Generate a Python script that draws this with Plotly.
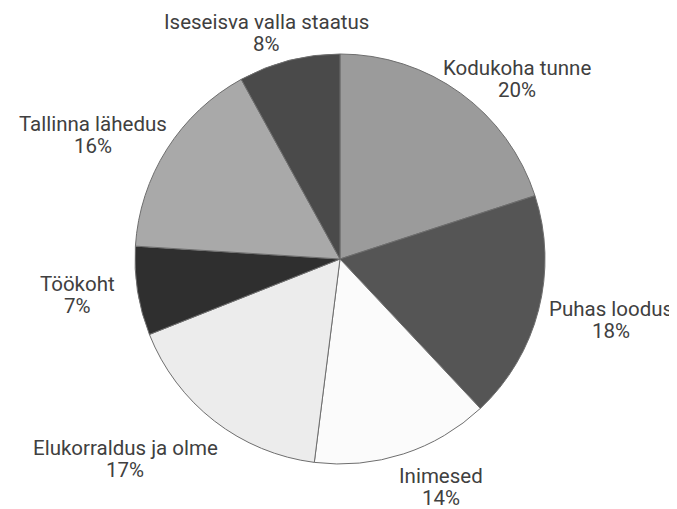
import plotly.graph_objects as go

categories = ["Kodukoha tunne", "Puhas loodus", "Inimesed", "Elukorraldus ja olme",
              "Töökoht", "Tallinna lähedus", "Iseseisva valla staatus"]
values = [20, 18, 14, 17, 7, 16, 8]

colors = ["#9b9b9b", "#555555", "#fbfbfb", "#ececec", "#2f2f2f", "#a9a9a9", "#4a4a4a"]
# label block centres in screen pixels (layout only)
label_px = [(517, 79), (611, 320), (441, 487), (125, 459), (77, 295), (93, 135), (266, 33)]

OFF = 8          # page body margin
W, H = 677 - OFF, 509 - OFF
cx, cy, r = 340, 259, 205
LINE = 22.5


def px2paper(x, y):
    return (x - OFF) / W, 1 - (y - OFF) / H


x0, y1 = px2paper(cx - r, cy - r)
x1, y0 = px2paper(cx + r, cy + r)

fig = go.Figure(go.Pie(
    labels=categories, values=values, sort=False, direction="clockwise", rotation=0,
    marker=dict(colors=colors, line=dict(color="#6e6e6e", width=1)),
    textinfo="none", hoverinfo="label+percent", showlegend=False,
    domain=dict(x=[x0, x1], y=[y0, y1]),
))

total = sum(values)
font = dict(family="Roboto", size=20.5, color="#404040")
for cat, v, (px, py) in zip(categories, values, label_px):
    for line, dy in ((cat, -LINE / 2), (f"{round(100 * v / total)}%", LINE / 2)):
        ax, ay = px2paper(px, py + dy)
        fig.add_annotation(x=ax, y=ay, xref="paper", yref="paper", text=line,
                           showarrow=False, xanchor="center", yanchor="middle",
                           font=font)

fig.update_layout(width=W, height=H, margin=dict(l=0, r=0, t=0, b=0),
                  paper_bgcolor="white", plot_bgcolor="white")
fig.write_html("out.html")
